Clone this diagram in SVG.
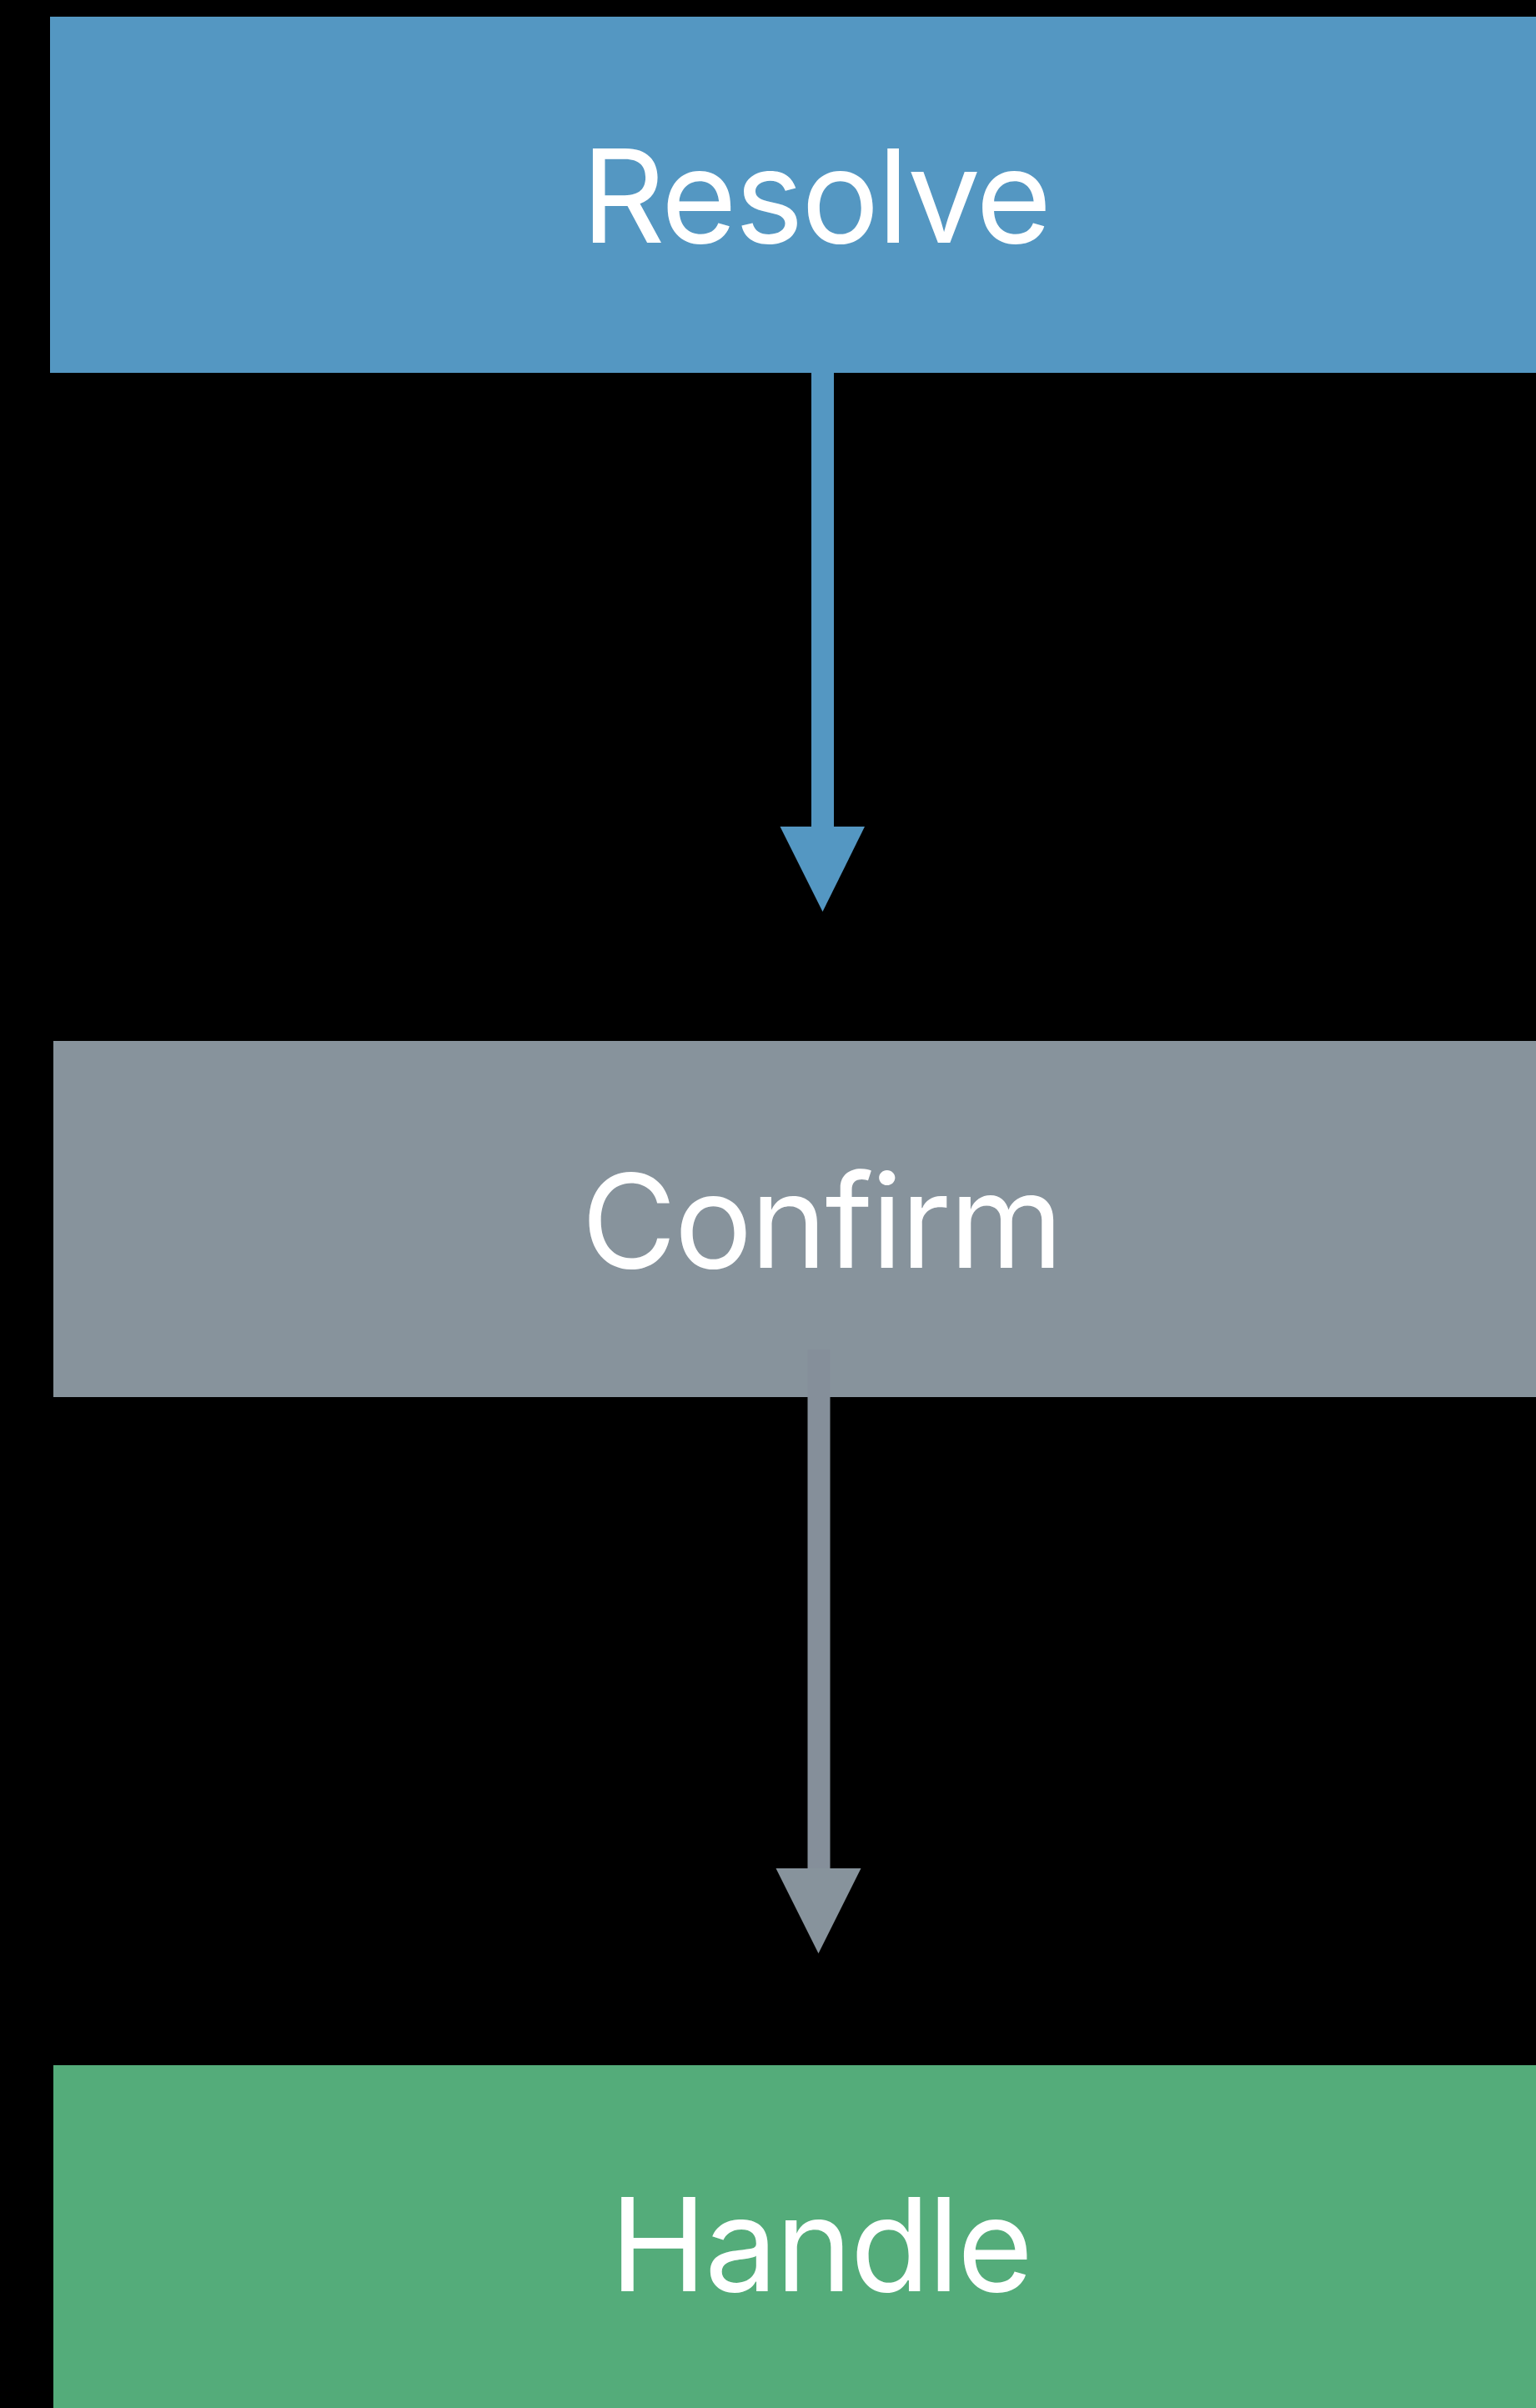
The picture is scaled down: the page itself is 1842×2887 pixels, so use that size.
<svg xmlns="http://www.w3.org/2000/svg" width="1842" height="2887" viewBox="0 0 1842 2887">
<style>
.lbl{font-family:Inter,"Noto Sans","Liberation Sans",sans-serif;font-size:156px;letter-spacing:-2.5px;fill:#ffffff;text-anchor:middle}
</style>
<rect x="0" y="0" width="1842" height="2887" fill="#000000"/>
<g id="node-resolve">
<rect x="60" y="20" width="1790" height="427" fill="#5497C2"/>
<text class="lbl" x="978" y="291">Resolve</text>
</g>
<g id="node-confirm">
<rect x="64" y="1248" width="1790" height="427" fill="#87939C"/>
<text class="lbl" x="985" y="1520">Confirm</text>
</g>
<g id="node-handle">
<rect x="64" y="2476" width="1790" height="420" fill="#54AC7A"/>
<text class="lbl" x="984" y="2747">Handle</text>
</g>
<g id="connectors">
<g id="edge-resolve-confirm">
<rect x="973" y="440" width="27" height="552" fill="#5497C2"/>
<polygon points="935.5,991 1037,991 986.5,1093" fill="#5497C2"/>
</g>
<g id="edge-confirm-handle">
<rect x="968.5" y="1618" width="27" height="623" fill="#858F9A"/>
<polygon points="930.5,2240 1032.5,2240 981.5,2342" fill="#87939C"/>
</g>
</g>
</svg>
